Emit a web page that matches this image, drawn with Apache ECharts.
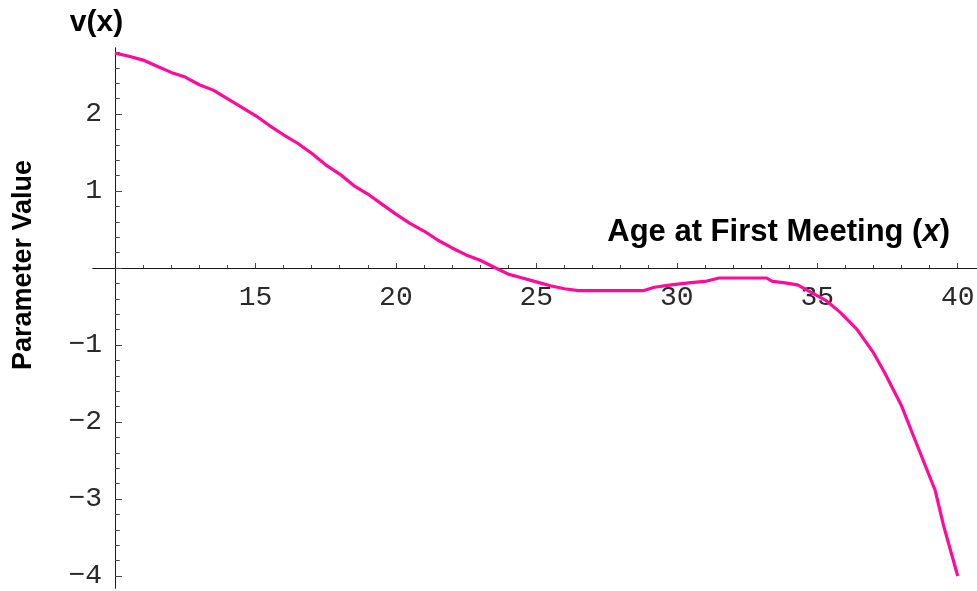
<!DOCTYPE html>
<html>
<head>
<meta charset="utf-8">
<script src="https://cdn.jsdelivr.net/npm/echarts@6/dist/echarts.min.js"></script>
<style>
  html, body { margin: 0; padding: 0; background: #fff; }
  #chart { width: 977px; height: 591px; }
</style>
</head>
<body>
<div id="chart"></div>
<script>
// Age at first meeting (x) and the fitted parameter value v(x)
const ages = [10, 10.5, 11, 11.5, 12, 12.5, 13, 13.5, 14, 14.5, 15, 15.5, 16, 16.5, 17, 17.5,
  18, 18.5, 19, 19.5, 20, 20.5, 21, 21.5, 22, 22.5, 23, 23.5, 24, 24.5, 25, 25.5, 26, 26.5,
  27, 28, 28.8, 29.2, 29.8, 30.5, 31, 31.5, 32, 33.2, 33.4, 33.8, 34.3, 34.8, 35.3, 35.8,
  36.4, 37, 37.4, 38, 38.5, 39.2, 39.5, 40];
const values = [2.79, 2.75, 2.70, 2.62, 2.54, 2.48, 2.38, 2.31, 2.20, 2.09, 1.98, 1.85, 1.73, 1.62, 1.49, 1.34,
  1.22, 1.07, 0.96, 0.83, 0.70, 0.58, 0.48, 0.36, 0.26, 0.17, 0.10, 0.01, -0.08, -0.13, -0.18, -0.23, -0.27, -0.295,
  -0.295, -0.295, -0.295, -0.25, -0.22, -0.19, -0.175, -0.13, -0.13, -0.13, -0.175, -0.19, -0.22, -0.32, -0.42, -0.57,
  -0.79, -1.10, -1.36, -1.79, -2.25, -2.89, -3.35, -4.0];

// Tick labels
const xTickLabels = [15, 20, 25, 30, 35, 40];
const yTickLabels = [-4, -3, -2, -1, 1, 2];

// Axis ranges
const X_MIN = 9.217, X_MAX = 40.687;
const Y_MIN = -4.156, Y_MAX = 2.857;

// Plot area in pixels
const GRID_TOP = 48, GRID_BOTTOM = 3, CHART_H = 591;
const plotH = CHART_H - GRID_TOP - GRID_BOTTOM;
// distance from the plot's bottom edge up to the line y = 0
const zeroLift = plotH * (0 - Y_MIN) / (Y_MAX - Y_MIN);

// Minor ticks: every 1 on x, every 0.2 on y (major positions excluded)
const xMinor = [];
for (let v = 11; v < 40; v++) if (v % 5 !== 0) xMinor.push(v);
const yMajor = [-4, -3, -2, -1, 0, 1, 2];
const yMinor = [];
for (let k = -20; k <= 14; k++) if (k % 5 !== 0) yMinor.push(Math.round(k * 2) / 10);

const axisColor = '#1a1a1a';
const tickFont = { fontFamily: 'Liberation Mono', fontSize: 28, color: '#2a2a2a' };
const titleFont = { fontFamily: 'Liberation Sans', fontWeight: 'bold', color: '#000' };

const chart = echarts.init(document.getElementById('chart'), null, { renderer: 'canvas' });

chart.setOption({
  animation: false,
  backgroundColor: '#fff',
  grid: { left: 93, right: 0, top: GRID_TOP, bottom: GRID_BOTTOM, containLabel: false, outerBoundsMode: 'none' },
  xAxis: [
    {
      type: 'value', min: X_MIN, max: X_MAX, position: 'bottom', offset: -zeroLift,
      axisLine: { show: true, onZero: false, lineStyle: { color: axisColor, width: 1 } },
      axisTick: { show: true, inside: true, length: 5, customValues: xTickLabels, lineStyle: { color: '#444' } },
      axisLabel: { show: true, customValues: xTickLabels, margin: 16, ...tickFont },
      splitLine: { show: false },
      name: '{b|Age at First Meeting (}{i|x}{b|)}',
      nameLocation: 'end', nameGap: -27,
      nameTextStyle: {
        align: 'right', verticalAlign: 'bottom', padding: [0, 0, 20, 0],
        rich: {
          b: { ...titleFont, fontSize: 31 },
          i: { ...titleFont, fontSize: 31, fontStyle: 'italic' }
        }
      }
    },
    {
      type: 'value', min: X_MIN, max: X_MAX, position: 'bottom', offset: -zeroLift,
      axisLine: { show: true, onZero: false, lineStyle: { color: axisColor, width: 1 } },
      axisTick: { show: true, inside: true, length: 3, customValues: xMinor, lineStyle: { color: '#444' } },
      axisLabel: { show: false },
      splitLine: { show: false }
    }
  ],
  yAxis: [
    {
      type: 'value', min: Y_MIN, max: Y_MAX, position: 'left', offset: -22,
      axisLine: { show: true, onZero: false, lineStyle: { color: axisColor, width: 1 } },
      axisTick: { show: true, inside: true, length: 7, customValues: yMajor, lineStyle: { color: '#444' } },
      axisLabel: {
        show: true, customValues: yTickLabels, margin: 13, ...tickFont,
        formatter: v => String(v).replace('-', '\u2212')
      },
      splitLine: { show: false },
      name: 'v(x)', nameLocation: 'end', nameGap: 10,
      nameTextStyle: { ...titleFont, fontSize: 30, align: 'center', verticalAlign: 'bottom', padding: [0, 37, 0, 0] }
    },
    {
      type: 'value', min: Y_MIN, max: Y_MAX, position: 'left', offset: -22,
      axisLine: { show: true, onZero: false, lineStyle: { color: axisColor, width: 1 } },
      axisTick: { show: true, inside: true, length: 4.7, customValues: yMinor, lineStyle: { color: '#444' } },
      axisLabel: { show: false },
      splitLine: { show: false },
      name: 'Parameter Value', nameLocation: 'middle', nameGap: 78,
      nameTextStyle: { ...titleFont, fontSize: 27, padding: [0, 0, 0, 106] }
    }
  ],
  series: [
    {
      type: 'line',
      xAxisIndex: 0, yAxisIndex: 0,
      data: ages.map((a, i) => [a, values[i]]),
      showSymbol: false,
      smooth: false,
      lineStyle: { color: '#ff0a9a', width: 3.2 },
      itemStyle: { color: '#ff0a9a' },
      z: 5
    }
  ]
});
</script>
</body>
</html>
